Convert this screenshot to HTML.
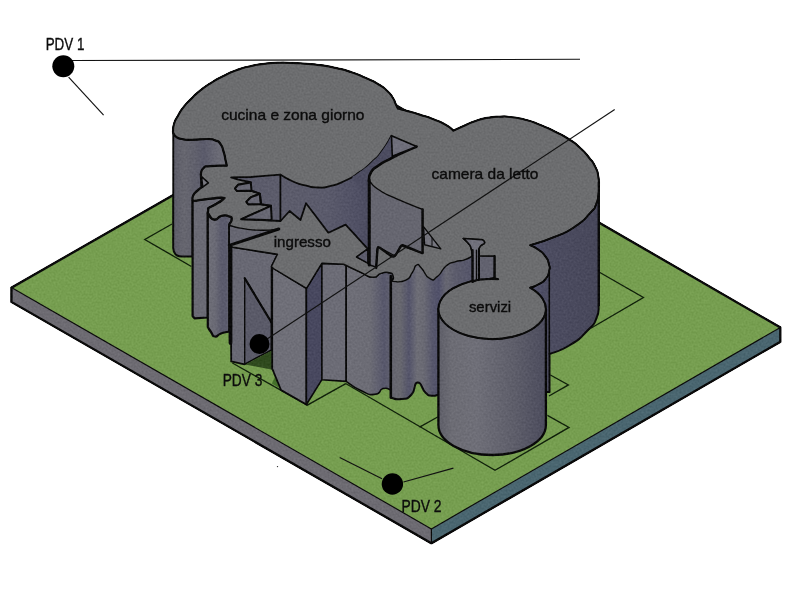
<!DOCTYPE html>
<html><head><meta charset="utf-8">
<style>
html,body{margin:0;padding:0;background:#fff;}
body{width:790px;height:600px;overflow:hidden;font-family:"Liberation Sans",sans-serif;}
svg{display:block;}
text{font-family:"Liberation Sans",sans-serif;fill:#0c0c0c;stroke:#0c0c0c;stroke-width:0.35px;}
</style></head><body>
<svg width="790" height="600" viewBox="0 0 790 600">
<defs>
<linearGradient id="gW1" gradientUnits="userSpaceOnUse" x1="173" x2="229" y1="0" y2="0"><stop offset="0" stop-color="#5c5c68"/><stop offset="0.2" stop-color="#66666f"/><stop offset="0.4" stop-color="#60606c"/><stop offset="0.55" stop-color="#5a5a6a"/><stop offset="0.8" stop-color="#6a6a75"/><stop offset="1" stop-color="#6e6e78"/></linearGradient>
<linearGradient id="gW3" x1="0" x2="1" y1="0" y2="0"><stop offset="0" stop-color="#6e6e77"/><stop offset="0.3" stop-color="#6a6a75"/><stop offset="0.55" stop-color="#5b5b6c"/><stop offset="0.75" stop-color="#5a5a6c"/><stop offset="1" stop-color="#6a6a75"/></linearGradient>
<linearGradient id="gW9" x1="0" x2="1" y1="0" y2="0"><stop offset="0" stop-color="#6e6e77"/><stop offset="0.5" stop-color="#6c6c75"/><stop offset="0.8" stop-color="#57576b"/><stop offset="1" stop-color="#62626f"/></linearGradient>
<linearGradient id="gW10" gradientUnits="userSpaceOnUse" x1="391" x2="473" y1="0" y2="0"><stop offset="0" stop-color="#65656f"/><stop offset="0.11" stop-color="#68686f"/><stop offset="0.22" stop-color="#54546a"/><stop offset="0.32" stop-color="#6d6d76"/><stop offset="0.4" stop-color="#696973"/><stop offset="0.51" stop-color="#56566b"/><stop offset="0.585" stop-color="#51516a"/><stop offset="0.67" stop-color="#676772"/><stop offset="0.78" stop-color="#5c5c6c"/><stop offset="1" stop-color="#55556a"/></linearGradient>
<linearGradient id="gSrv" x1="0" x2="1" y1="0" y2="0"><stop offset="0" stop-color="#5e5e68"/><stop offset="0.12" stop-color="#6c6c74"/><stop offset="0.35" stop-color="#6f6f78"/><stop offset="0.7" stop-color="#5e5e6a"/><stop offset="1" stop-color="#4c4c5d"/></linearGradient>
<linearGradient id="gCam" x1="0" x2="1" y1="0" y2="0"><stop offset="0" stop-color="#50506a"/><stop offset="0.3" stop-color="#4c4c60"/><stop offset="1" stop-color="#47475a"/></linearGradient>
<linearGradient id="gVoid" gradientUnits="userSpaceOnUse" x1="231" x2="369" y1="0" y2="0"><stop offset="0" stop-color="#5a5a6a"/><stop offset="0.36" stop-color="#5c5c6b"/><stop offset="0.7" stop-color="#5a5a6b"/><stop offset="0.9" stop-color="#515165"/><stop offset="1" stop-color="#4c4c60"/></linearGradient>
<filter id="grain" x="0" y="0" width="790" height="600" filterUnits="userSpaceOnUse" color-interpolation-filters="sRGB">
<feGaussianBlur in="SourceGraphic" stdDeviation="0.35" result="b"/>
<feTurbulence type="fractalNoise" baseFrequency="0.5" numOctaves="2" seed="7" result="n"/>
<feColorMatrix in="n" type="matrix" values="1 0 0 0 0  1 0 0 0 0  1 0 0 0 0  0 0 0 0 1" result="g"/>
<feComposite in="b" in2="g" operator="arithmetic" k1="0" k2="1" k3="0.10" k4="-0.05" result="c"/>
<feComposite in="c" in2="b" operator="in"/>
</filter>
<filter id="soft" x="0" y="0" width="790" height="600" filterUnits="userSpaceOnUse" color-interpolation-filters="sRGB"><feGaussianBlur stdDeviation="0.3"/></filter>

</defs>
<rect width="790" height="600" fill="#fff"/>
<g filter="url(#grain)">
<!-- PLATE -->
<g stroke="#0a0a0a" stroke-linejoin="round" stroke-linecap="round">
<polygon points="11.4,287.6 431.4,528.9 431.4,543.3 11.4,302" fill="#6d6b72" stroke="none"/>
<polygon points="431.4,528.9 780.4,327.4 780.4,341.8 431.4,543.3" fill="#4a6670" stroke="none"/>
<polygon points="11.4,287.6 363.3,86.3 780.4,327.4 431.4,528.9" fill="#769e50" stroke="none"/>
<polyline points="11.4,287.6 431.4,528.9 780.4,327.4" fill="none" stroke-width="1.2"/>
<line x1="431.4" y1="528.9" x2="431.4" y2="543.3" stroke-width="1.2"/>
<polyline points="780.4,341.8 780.4,327.4 363.3,86.3 11.4,287.6 11.4,302 431.4,543.3 780.4,341.8" fill="none" stroke-width="2.5"/>
</g>
<!-- GROUND LINES -->
<g stroke="#10200a" stroke-width="1.35" fill="none">
<polyline points="172,224 144.8,239.5 191.4,266.5"/>
<polyline points="232.4,363 307.3,405.2 345.8,383.7"/>
<polyline points="345.6,383.5 495,470.3 569,427.4 547.4,415.4"/>
<line x1="419.5" y1="427.1" x2="437.7" y2="417"/>
<polyline points="549,396 568.4,384.9 550.4,375"/>
<polyline points="599,272 643.4,297.5 575,337.5"/>
</g>
<g stroke="#0a0a0a" stroke-linejoin="round" stroke-linecap="round">
<path d="M598.8,185.0 C598.7,187.7 599.5,186.7 598.6,193.0 C597.7,199.3 599.0,197.3 596.1,204.0 C593.2,210.7 597.0,205.5 590.0,213.0 C583.0,220.5 587.0,218.5 575.0,226.5 C563.0,234.5 569.0,230.8 554.0,237.0 C539.0,243.2 538.0,242.5 530.0,245.2 C532.7,246.6 533.0,245.9 538.0,249.5 C543.0,253.1 541.4,251.2 545.0,256.0 C548.6,260.8 547.5,259.0 548.8,264.0 C550.1,269.0 550.1,266.0 549.0,271.0 C547.9,276.0 549.2,274.5 545.5,279.0 C541.8,283.5 543.2,281.3 538.0,284.5 C532.8,287.7 532.7,287.2 530.0,288.6 L545.9,309.0 L545.9,392.0 L549.5,392.0 L549.5,354.0 C556.3,351.0 557.2,353.0 570.0,345.0 C582.8,337.0 579.2,339.0 588.0,330.0 C596.8,321.0 592.9,326.3 596.5,318.0 C600.1,309.7 598.0,309.3 598.8,305.0 Z" fill="url(#gCam)" stroke-width="2"/>
<line x1="549.3" y1="271" x2="549.3" y2="354" stroke-width="1.6"/>
<path d="M173.2,130 L173.2,248 C173.5,254 176,256.5 182,256.6 L192.6,256.6 L192.6,215 L229,215 L229,130 Z" fill="url(#gW1)" stroke="none"/>
<path d="M173.2,132 L173.2,248 C173.5,254 176,256.5 182,256.6 L192.6,256.6 L192.6,200.5" fill="none" stroke-width="2"/>
<path d="M192.6,200.5 L210.3,198.6 L221.7,197.7 L223,199.5 L216.6,203.7 L208.4,208.1 L207.8,213.2 L207.8,317.5 L194.5,318.3 L192.6,316 Z" fill="#6a6a74" stroke-width="2.2"/>
<path d="M207.8,213.2 C209.9,215.3 209.5,218.7 214.1,219.5 C218.7,220.3 216.8,216.8 221.7,215.7 C226.6,214.6 225.3,215.2 228.7,216.3 C232.1,217.4 231.6,216.1 231.8,218.9 C232.0,221.7 230.1,222.7 229.3,224.6 L229.3,331.5 C226.5,332.2 225.8,331.8 221.0,333.5 C216.2,335.2 218.3,337.0 215.0,336.5 C211.7,336.0 213.4,335.2 211.0,332.0 C208.6,328.8 208.9,328.7 207.8,327.0 Z" fill="url(#gW3)" stroke-width="2.2"/>
<path d="M232.9,247.2 L277.5,254.3 L271.6,266.5 L271.6,350 L259,356 L244.6,364.3 L231.2,361.4 L230.6,245 Z" fill="#686873" stroke-width="1.8"/>
<path d="M244.7,278.2 L271.2,322 L271.2,350 L244.7,364 Z" fill="#5a5a68" stroke-width="1.4"/>
<line x1="244.7" y1="278.2" x2="271.2" y2="322" stroke-width="2.2"/>
<line x1="230.5" y1="226" x2="230.5" y2="343" stroke-width="3.8"/>
<path d="M245.4,364.4 L271.8,350.5 L272.6,369.8 Z" fill="#2f4a1e" stroke="none"/>
<path d="M271.8,383.6 L275.3,376.2 L279,387.8 Z" fill="#44702a" stroke="none"/>
<path d="M272.2,267.5 L306.4,288.3 L306.4,404.5 L281,390 L272.2,368.7 Z" fill="#6f6f78" stroke-width="1.8"/>
<path d="M306.4,288.3 L321.9,263.4 L321.9,379.7 L306.4,404.5 Z" fill="#48485f" stroke-width="1.6"/>
<path d="M321.9,263.4 L343.5,264.2 L346.2,265.5 L346.2,381.4 L321.9,379.7 Z" fill="#6c6c76" stroke-width="1.6"/>
<path d="M346.2,265.5 C351.1,267.8 351.9,268.4 360.8,272.3 C369.7,276.2 366.2,277.0 372.9,277.3 C379.6,277.6 375.6,274.8 381.0,273.3 C386.4,271.8 385.0,271.7 389.1,272.7 C393.2,273.7 392.4,273.4 393.2,276.3 C394.0,279.2 392.1,279.7 391.5,281.4 L390.7,389.8 C388.1,389.4 388.2,387.1 383.0,388.6 C377.8,390.1 382.4,393.6 375.0,394.3 C367.6,395.0 370.4,394.9 360.8,390.6 C351.2,386.3 351.1,384.5 346.2,381.4 Z" fill="url(#gW9)" stroke-width="1.6"/>
<path d="M390.9,281.4 C395.7,281.1 398.1,283.4 405.3,280.4 C412.5,277.4 408.7,277.4 412.4,272.3 C416.1,267.2 413.5,266.6 416.5,265.2 C419.5,263.8 417.1,263.8 421.5,268.2 C425.9,272.6 424.2,275.7 429.6,278.4 C435.0,281.1 432.3,280.4 437.7,276.3 C443.1,272.2 440.0,271.0 445.8,266.2 C451.6,261.4 448.8,263.9 455.0,261.8 C461.2,259.7 458.7,261.7 464.5,259.9 C470.3,258.1 469.8,257.6 472.4,256.5 L472.4,283.0 L438.3,312.0 L438.3,394.7 C436.1,395.0 435.8,396.4 431.6,395.7 C427.4,395.0 430.3,397.1 425.6,392.7 C420.9,388.3 422.2,381.8 417.5,382.5 C412.8,383.2 416.8,389.2 411.4,394.7 C406.0,400.2 408.1,398.1 401.3,399.1 C394.5,400.1 394.4,398.2 391.0,397.7 Z" fill="url(#gW10)" stroke="none"/>
<path d="M438.3,394.7 C436.1,395.0 435.8,396.4 431.6,395.7 C427.4,395.0 430.3,397.1 425.6,392.7 C420.9,388.3 422.2,381.8 417.5,382.5 C412.8,383.2 416.8,389.2 411.4,394.7 C406.0,400.2 408.1,398.1 401.3,399.1 C394.5,400.1 394.4,398.2 391.0,397.7 " fill="none" stroke-width="2"/>
<line x1="390.8" y1="276" x2="390.8" y2="397.5" stroke-width="2.6"/>
<path d="M478.8,255.9 L494.6,255.9 L494.6,277.5 L478.8,281 Z" fill="#62626f" stroke-width="1.6"/>
<path d="M494.6,267.8 L498.6,278.3 L494.6,277.5 Z" fill="#7a7a84" stroke-width="1"/>
<path d="M438.4,309 L438.4,425 A53.75,30 0 0 0 545.9,425 L545.9,309 Z" fill="url(#gSrv)" stroke-width="2.3"/>
</g>
<path d="M172.9,132.0 C173.3,129.1 172.4,128.8 174.1,123.4 C175.8,118.0 174.9,121.1 177.9,115.8 C180.9,110.5 178.9,113.0 183.2,107.4 C187.5,101.8 185.2,104.7 190.8,99.1 C196.4,93.5 193.3,96.0 199.9,90.7 C206.5,85.4 203.0,87.9 210.6,83.1 C218.2,78.3 214.1,80.6 222.7,76.3 C231.3,72.0 227.3,73.6 236.4,70.2 C245.5,66.8 241.0,68.3 250.1,66.2 C259.2,64.1 254.6,65.0 263.7,63.8 C272.8,62.6 268.6,63.0 277.4,62.7 C286.2,62.4 280.9,62.5 290.2,62.8 C299.5,63.1 295.3,62.9 305.4,63.7 C315.5,64.5 310.5,63.8 320.6,65.2 C330.7,66.6 325.7,65.6 335.8,67.9 C345.9,70.2 340.9,68.6 351.0,72.0 C361.1,75.4 357.0,74.0 366.1,78.1 C375.2,82.2 371.2,79.9 378.3,84.2 C385.4,88.5 382.5,86.4 387.4,91.0 C392.3,95.6 390.3,93.8 393.0,98.0 C395.7,102.2 393.9,100.0 395.5,103.5 C397.1,107.0 397.1,106.8 397.9,108.5 C401.2,109.4 400.5,109.1 407.8,111.1 C415.1,113.1 411.3,111.9 419.9,114.6 C428.5,117.3 425.0,115.8 433.6,119.2 C442.2,122.6 439.2,121.0 445.8,124.8 C452.4,128.6 450.9,128.7 453.4,130.6 C456.9,129.0 456.4,129.0 464.0,125.7 C471.6,122.4 468.0,123.4 476.1,120.7 C484.2,118.0 480.3,119.1 488.3,117.7 C496.3,116.3 492.7,116.8 500.0,116.6 C507.3,116.4 501.7,116.0 510.2,117.0 C518.7,118.0 515.3,117.0 525.4,119.7 C535.5,122.4 530.5,121.0 540.6,125.1 C550.7,129.2 546.2,127.1 555.8,131.9 C565.4,136.7 561.3,134.2 569.4,139.5 C577.5,144.8 573.5,141.7 580.1,147.8 C586.7,153.9 584.1,151.4 589.2,157.7 C594.3,164.0 592.3,160.7 595.3,166.8 C598.3,172.9 597.1,169.6 598.3,176.0 C599.5,182.4 598.9,180.3 599.0,186.0 C599.1,191.7 599.6,187.0 598.6,193.0 C597.6,199.0 599.0,197.3 596.1,204.0 C593.2,210.7 597.0,205.5 590.0,213.0 C583.0,220.5 587.0,218.5 575.0,226.5 C563.0,234.5 569.0,230.8 554.0,237.0 C539.0,243.2 538.0,242.5 530.0,245.2 C532.7,246.6 533.0,245.9 538.0,249.5 C543.0,253.1 541.4,251.2 545.0,256.0 C548.6,260.8 547.5,259.0 548.8,264.0 C550.1,269.0 550.1,266.0 549.0,271.0 C547.9,276.0 549.2,274.5 545.5,279.0 C541.8,283.5 543.2,281.6 538.0,284.5 C532.8,287.4 532.7,286.6 530.0,287.7 A53.75,30 0 1 1 498.5,279.2 L494.6,277.8 L494.6,256.0 L478.8,255.9 L478.8,249.0 C479.5,247.8 479.1,247.5 481.0,245.5 C482.9,243.5 483.9,244.9 484.5,243.0 C485.1,241.1 483.3,240.9 482.7,239.8 L463.2,238.5 C464.8,240.0 465.4,239.8 468.0,243.0 C470.6,246.2 469.5,243.7 471.0,248.0 C472.5,252.3 471.9,253.3 472.4,256.0 C469.8,257.3 470.3,258.0 464.5,259.9 C458.7,261.8 461.2,259.7 455.0,261.8 C448.8,263.9 451.6,261.4 445.8,266.2 C440.0,271.0 443.1,272.2 437.7,276.3 C432.3,280.4 435.0,281.1 429.6,278.4 C424.2,275.7 425.9,272.6 421.5,268.2 C417.1,263.8 419.5,263.8 416.5,265.2 C413.5,266.6 416.1,267.2 412.4,272.3 C408.7,277.4 412.0,277.4 405.3,280.4 C398.6,283.4 396.6,281.1 392.2,281.4 C392.5,279.7 394.2,279.2 393.2,276.3 C392.2,273.4 393.2,273.7 389.1,272.7 C385.0,271.7 386.4,271.8 381.0,273.3 C375.6,274.8 379.6,277.6 372.9,277.3 C366.2,277.0 370.6,276.7 360.8,272.3 C351.0,267.9 349.3,266.9 343.5,264.2 L321.9,263.2 L306.5,288.3 L273.4,268.5 L271.4,266.5 L277.5,254.3 L232.9,247.2 L229.3,245.5 L229.3,224.6 C230.1,222.7 232.0,221.7 231.8,218.9 C231.6,216.1 232.1,217.4 228.7,216.3 C225.3,215.2 226.6,214.6 221.7,215.7 C216.8,216.8 218.5,220.1 214.1,219.5 C209.7,218.9 210.3,215.7 208.4,213.8 L207.8,213.2 L208.4,208.1 C211.1,206.6 211.7,206.6 216.6,203.7 C221.5,200.8 221.3,201.5 223.0,199.5 C224.7,197.5 225.9,198.0 221.7,197.7 C217.5,197.4 219.4,197.6 210.3,198.6 C201.2,199.6 199.8,200.1 194.5,200.8 L192.6,200.5 C192.8,198.8 191.5,198.8 193.2,195.4 C194.9,192.0 194.9,193.1 197.7,190.4 C200.5,187.7 200.3,188.4 201.6,187.4 L200.8,173.9 C201.7,172.0 200.2,170.8 203.4,168.2 C206.6,165.6 202.5,166.9 210.3,166.1 C218.1,165.3 221.3,165.8 226.8,165.7 C226.4,163.8 226.5,164.5 225.5,160.0 C224.5,155.5 225.5,157.7 223.8,152.3 C222.1,146.9 223.3,147.9 220.4,143.9 C217.5,139.9 219.4,142.0 215.1,140.4 C210.8,138.8 215.1,139.2 207.5,139.0 C199.9,138.8 200.9,139.8 192.3,139.8 C183.7,139.8 187.3,140.2 181.7,139.0 C176.1,137.8 178.5,138.6 175.6,136.3 C172.7,134.0 173.8,133.4 172.9,132.0 Z" fill="#6c6d6f" stroke="#0a0a0a" stroke-width="1.4" stroke-linejoin="round"/>
<path d="M172.9,132.0 C173.3,129.1 172.4,128.8 174.1,123.4 C175.8,118.0 174.9,121.1 177.9,115.8 C180.9,110.5 178.9,113.0 183.2,107.4 C187.5,101.8 185.2,104.7 190.8,99.1 C196.4,93.5 193.3,96.0 199.9,90.7 C206.5,85.4 203.0,87.9 210.6,83.1 C218.2,78.3 214.1,80.6 222.7,76.3 C231.3,72.0 227.3,73.6 236.4,70.2 C245.5,66.8 241.0,68.3 250.1,66.2 C259.2,64.1 254.6,65.0 263.7,63.8 C272.8,62.6 268.6,63.0 277.4,62.7 C286.2,62.4 280.9,62.5 290.2,62.8 C299.5,63.1 295.3,62.9 305.4,63.7 C315.5,64.5 310.5,63.8 320.6,65.2 C330.7,66.6 325.7,65.6 335.8,67.9 C345.9,70.2 340.9,68.6 351.0,72.0 C361.1,75.4 357.0,74.0 366.1,78.1 C375.2,82.2 371.2,79.9 378.3,84.2 C385.4,88.5 382.5,86.4 387.4,91.0 C392.3,95.6 390.3,93.8 393.0,98.0 C395.7,102.2 393.9,100.0 395.5,103.5 C397.1,107.0 397.1,106.8 397.9,108.5 C401.2,109.4 400.5,109.1 407.8,111.1 C415.1,113.1 411.3,111.9 419.9,114.6 C428.5,117.3 425.0,115.8 433.6,119.2 C442.2,122.6 439.2,121.0 445.8,124.8 C452.4,128.6 450.9,128.7 453.4,130.6 C456.9,129.0 456.4,129.0 464.0,125.7 C471.6,122.4 468.0,123.4 476.1,120.7 C484.2,118.0 480.3,119.1 488.3,117.7 C496.3,116.3 492.7,116.8 500.0,116.6 C507.3,116.4 501.7,116.0 510.2,117.0 C518.7,118.0 515.3,117.0 525.4,119.7 C535.5,122.4 530.5,121.0 540.6,125.1 C550.7,129.2 546.2,127.1 555.8,131.9 C565.4,136.7 561.3,134.2 569.4,139.5 C577.5,144.8 573.5,141.7 580.1,147.8 C586.7,153.9 584.1,151.4 589.2,157.7 C594.3,164.0 592.3,160.7 595.3,166.8 C598.3,172.9 597.1,169.6 598.3,176.0 C599.5,182.4 598.8,182.7 599.0,186.0 " fill="none" stroke="#0a0a0a" stroke-width="2.2" stroke-linejoin="round" stroke-linecap="round"/>
<path d="M599.0,186.0 C598.9,188.3 599.6,187.0 598.6,193.0 C597.6,199.0 599.0,197.3 596.1,204.0 C593.2,210.7 597.0,205.5 590.0,213.0 C583.0,220.5 587.0,218.5 575.0,226.5 C563.0,234.5 569.0,230.8 554.0,237.0 C539.0,243.2 538.0,242.5 530.0,245.2 C532.7,246.6 533.0,245.9 538.0,249.5 C543.0,253.1 541.4,251.2 545.0,256.0 C548.6,260.8 547.5,259.0 548.8,264.0 C550.1,269.0 550.1,266.0 549.0,271.0 C547.9,276.0 549.2,274.5 545.5,279.0 C541.8,283.5 543.2,281.6 538.0,284.5 C532.8,287.4 532.7,286.6 530.0,287.7 " fill="none" stroke="#0a0a0a" stroke-width="1.7" stroke-linejoin="round" stroke-linecap="round"/>
<path d="M229.3,224.6 C230.1,222.7 232.0,221.7 231.8,218.9 C231.6,216.1 232.1,217.4 228.7,216.3 C225.3,215.2 226.6,214.6 221.7,215.7 C216.8,216.8 218.5,220.1 214.1,219.5 C209.7,218.9 210.3,215.7 208.4,213.8 L207.8,213.2 L208.4,208.1 C211.1,206.6 211.7,206.6 216.6,203.7 C221.5,200.8 221.3,201.5 223.0,199.5 C224.7,197.5 225.9,198.0 221.7,197.7 C217.5,197.4 219.4,197.6 210.3,198.6 C201.2,199.6 199.8,200.1 194.5,200.8 L192.6,200.5 C192.8,198.8 191.5,198.8 193.2,195.4 C194.9,192.0 194.9,193.1 197.7,190.4 C200.5,187.7 200.3,188.4 201.6,187.4 L200.8,173.9 C201.7,172.0 200.2,170.8 203.4,168.2 C206.6,165.6 202.5,166.9 210.3,166.1 C218.1,165.3 221.3,165.8 226.8,165.7 C226.4,163.8 226.5,164.5 225.5,160.0 C224.5,155.5 225.5,157.7 223.8,152.3 C222.1,146.9 223.3,147.9 220.4,143.9 C217.5,139.9 219.4,142.0 215.1,140.4 C210.8,138.8 215.1,139.2 207.5,139.0 C199.9,138.8 200.9,139.8 192.3,139.8 C183.7,139.8 187.3,140.2 181.7,139.0 C176.1,137.8 178.5,138.6 175.6,136.3 C172.7,134.0 173.8,133.4 172.9,132.0 " fill="none" stroke="#0a0a0a" stroke-width="2.2" stroke-linejoin="round" stroke-linecap="round"/>
<line x1="598.8" y1="182" x2="598.8" y2="306" stroke="#0a0a0a" stroke-width="2.2"/>
<g stroke="#0a0a0a" stroke-linejoin="round" stroke-linecap="round">
<path d="M231.2,177.3 L251.0,177.0 L280.3,174.6 C284.5,176.9 284.4,177.8 293.0,181.5 C301.6,185.2 297.7,183.7 306.0,185.7 C314.3,187.7 310.0,187.3 318.0,187.5 C326.0,187.7 321.0,188.4 330.0,186.2 C339.0,184.0 335.0,185.6 345.0,180.8 C355.0,176.0 351.0,178.1 360.0,171.8 C369.0,165.5 364.7,168.9 372.0,162.0 C379.3,155.1 375.5,159.7 382.0,151.0 C388.5,142.3 388.3,140.9 391.5,135.8 L392.3,156.3 C387.7,159.3 385.7,160.1 378.6,165.4 C371.5,170.7 374.2,167.1 371.0,172.3 C367.8,177.5 369.6,178.1 368.9,181.0 L368.9,264.0 L367.8,263.0 L356.7,257.0 L367.8,248.9 L345.6,224.6 L328.4,232.7 L306.0,203.3 L300.5,220.0 L289.6,211.0 L280.5,221.0 L241.3,219.2 L271.0,206.0 L261.0,204.3 L248.3,204.3 L246.4,201.8 L250.8,197.3 L259.7,193.5 L251.5,190.8 L236.9,191.0 L235.0,188.5 L238.2,184.7 L250.8,182.2 L238.2,179.6 Z" fill="url(#gVoid)" stroke-width="1.8"/>
<path d="M250.8,182.4 L251.5,190.6 L236.9,191 L235,188.5 L238.2,184.7 Z" fill="#676773" stroke-width="2"/>
<path d="M259.9,193.8 L261,204.1 L248.3,204.3 L246.4,201.8 L250.8,197.3 Z" fill="#676773" stroke-width="2"/>
<path d="M271,205.8 L271.7,220.3 L241.3,219.2 Z" fill="#676773" stroke-width="2"/>
<polyline points="251.5,190.8 259.8,193.6 261,204.2 271,205.8" fill="none" stroke-width="2"/>
<line x1="280.4" y1="174.6" x2="280.4" y2="221" stroke-width="1.8"/>
<path d="M391.5,135.8 C388.3,140.9 388.5,142.3 382.0,151.0 C375.5,159.7 379.3,155.1 372.0,162.0 C364.7,168.9 366.7,166.8 360.0,171.8 C353.3,176.8 354.7,175.3 352.0,177.0 L368.9,200.0 L368.9,181.0 C369.6,178.1 367.8,177.5 371.0,172.3 C374.2,167.1 371.5,170.7 378.6,165.4 C385.7,160.1 387.7,159.3 392.3,156.3 Z" fill="#4c4c60" stroke="none"/>
<path d="M369.5,181.4 C373.0,184.4 370.9,184.7 380.0,190.5 C389.1,196.3 382.6,192.6 396.8,198.9 C411.0,205.2 413.9,205.9 422.5,209.4 L422.5,252.9 L421.5,252.9 L401.3,245.8 L395.2,256.0 L378.0,246.8 L376.0,267.0 L369.5,265.0 Z" fill="#666670" stroke-width="1.4"/>
<path d="M376.2,268 L377.4,248.8 Q378,246.6 379.8,247.8 L390.5,255.6 Q394,258 396,254.5 L400.3,247 Q401.8,244.6 404,245.6 L421.8,253" fill="none" stroke-width="2.4"/>
<line x1="369.2" y1="180" x2="369.2" y2="265" stroke-width="3"/>
<line x1="422.6" y1="209.4" x2="422.6" y2="253" stroke-width="2.4"/>
<path d="M416.6,146.5 C412.0,148.5 411.5,148.5 402.9,152.5 C394.3,156.5 398.9,154.3 390.8,158.6 C382.7,162.9 385.2,160.8 378.6,165.4 C372.0,170.0 374.2,167.1 371.0,172.3 C367.8,177.5 369.6,178.1 368.9,181.0 " fill="none" stroke-width="2.6"/>
<path d="M391.5,135.8 L416.6,146.5 L392.3,156.3 Z" fill="#6e6e7a" stroke-width="1.6"/>
<path d="M423.5,226.6 L440.8,248.9 L424.6,244.8 Z" fill="#73737c" stroke-width="1.4"/>
<line x1="432" y1="238" x2="432" y2="246.5" stroke-width="1"/>
<path d="M367.8,248.9 L356.7,257 L367.8,263 Z" fill="#5c5c6c" stroke-width="1.4"/>
<path d="M229.3,225.2 C233.5,226.3 231.4,226.7 242.0,228.4 C252.6,230.1 248.8,230.1 261.0,230.3 C273.2,230.5 272.8,229.4 278.7,229.0 L229.3,245.3 Z" fill="#666671" stroke-width="1.4"/>
<line x1="229.3" y1="245.3" x2="278.7" y2="229" stroke-width="3"/>
<path d="M201.5,176.5 L208.4,182.8 L202.7,187.2 Z" fill="#76767e" stroke-width="1.6"/>
<path d="M463.2,238.5 L482.7,239.8 C483.3,240.9 485.1,241.1 484.5,243.0 C483.9,244.9 482.9,243.5 481.0,245.5 C479.1,247.5 479.5,247.8 478.8,249.0 L478.8,279.5 L472.4,282.0 L472.4,256.0 C471.9,253.3 472.5,252.3 471.0,248.0 C469.5,243.7 470.6,246.2 468.0,243.0 C465.4,239.8 464.8,240.0 463.2,238.5 Z" fill="#70707b" stroke-width="1.6"/>
<line x1="476.4" y1="250" x2="476.4" y2="280" stroke-width="1.2"/>
<line x1="472.6" y1="250" x2="472.6" y2="282" stroke-width="2.2"/>
<line x1="478.9" y1="250" x2="478.9" y2="279.5" stroke-width="2.2"/>
<line x1="494.6" y1="256" x2="494.6" y2="277.5" stroke-width="2.2"/>
</g>
<path d="M530,287.7 A53.75,30 0 1 1 498.5,279.2" fill="none" stroke="#0a0a0a" stroke-width="2"/>
</g>
<g filter="url(#soft)">
<!-- PDV -->
<g stroke="#111" stroke-width="1.15" fill="none">
<line x1="72" y1="60.5" x2="580" y2="59.3"/>
<line x1="68.6" y1="77.1" x2="103.6" y2="115.2"/>
<line x1="259.5" y1="344" x2="614.7" y2="109.6"/>
<line x1="339.7" y1="457.5" x2="382" y2="478.7"/>
<line x1="403.5" y1="482" x2="453.4" y2="468.1"/>
</g>
<circle cx="63.3" cy="66.2" r="11" fill="#000"/>
<circle cx="392.4" cy="484" r="10.7" fill="#000"/>
<circle cx="259.5" cy="344" r="10" fill="#000"/>
<g font-size="16px">
<text x="45.7" y="49.8" textLength="38.7" lengthAdjust="spacingAndGlyphs">PDV 1</text>
<text x="401.5" y="512.4" textLength="40" lengthAdjust="spacingAndGlyphs">PDV 2</text>
<text x="222.7" y="385.7" textLength="39.6" lengthAdjust="spacingAndGlyphs">PDV 3</text>
</g>
<g font-size="14.2px">
<text x="221.2" y="119.7" textLength="143.3" lengthAdjust="spacingAndGlyphs">cucina e zona giorno</text>
<text x="431.5" y="178.9" textLength="106.9" lengthAdjust="spacingAndGlyphs">camera da letto</text>
<text x="273.7" y="246.9" textLength="57.2" lengthAdjust="spacingAndGlyphs">ingresso</text>
<text x="468.9" y="312.1" textLength="42.3" lengthAdjust="spacingAndGlyphs">servizi</text>
</g>
</g>
<circle cx="277.5" cy="466.6" r="0.7" fill="#222"/>
</svg>
</body></html>
